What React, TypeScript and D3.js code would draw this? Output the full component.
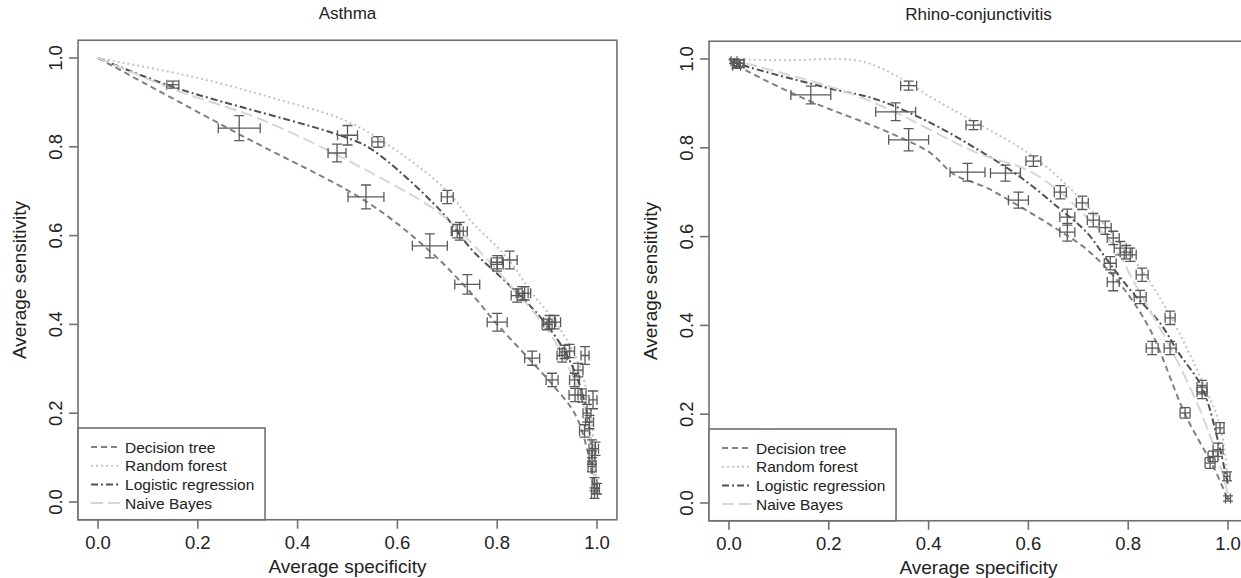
import * as d3 from 'd3';
import { useEffect, useRef } from 'react';

// model names, same order as the line styles
const models = ['Decision tree', 'Random forest', 'Logistic regression', 'Naive Bayes'];
const tickVals = [0, 0.2, 0.4, 0.6, 0.8, 1.0];

// --- Asthma ---
// mean curves: [specificity, sensitivity]
const asthmaTreeCurve = [[0, 1], [0.28, 0.83], [0.54, 0.675], [0.665, 0.565], [0.74, 0.48], [0.80, 0.40], [0.87, 0.315], [0.91, 0.265], [0.955, 0.2], [0.98, 0.12], [0.995, 0.02]];
const asthmaForestCurve = [[0, 1], [0.2, 0.955], [0.35, 0.91], [0.5, 0.857], [0.6, 0.79], [0.7, 0.70], [0.75, 0.63], [0.82, 0.55], [0.87, 0.47], [0.92, 0.40], [0.96, 0.32], [0.985, 0.22], [0.995, 0.1], [1.0, 0.02]];
const asthmaLogitCurve = [[0, 1], [0.15, 0.935], [0.5, 0.82], [0.55, 0.793], [0.685, 0.658], [0.75, 0.567], [0.82, 0.493], [0.886, 0.417], [0.93, 0.35], [0.96, 0.28], [0.98, 0.2], [0.99, 0.1], [0.995, 0.02]];
const asthmaBayesCurve = [[0, 1], [0.15, 0.93], [0.33, 0.86], [0.55, 0.74], [0.685, 0.65], [0.76, 0.57], [0.84, 0.47], [0.90, 0.39], [0.94, 0.31], [0.97, 0.23], [0.99, 0.12], [0.995, 0.02]];
// error bars: [specificity, sensitivity, spec error, sens error]
const asthmaTreeBars = [
  [0.283, 0.842, 0.042, 0.028], [0.537, 0.687, 0.036, 0.027], [0.665, 0.577, 0.035, 0.027], [0.74, 0.49, 0.025, 0.022],
  [0.80, 0.405, 0.02, 0.02], [0.87, 0.324, 0.015, 0.016], [0.91, 0.275, 0.012, 0.015], [0.956, 0.241, 0.012, 0.015],
  [0.975, 0.16, 0.01, 0.014], [0.99, 0.08, 0.008, 0.012], [0.995, 0.02, 0.006, 0.012],
];
const asthmaForestBars = [
  [0.561, 0.811, 0.012, 0.012], [0.70, 0.687, 0.012, 0.015], [0.80, 0.54, 0.012, 0.015], [0.855, 0.47, 0.012, 0.015],
  [0.915, 0.405, 0.012, 0.015], [0.945, 0.34, 0.01, 0.015], [0.976, 0.33, 0.008, 0.02], [0.992, 0.23, 0.008, 0.02],
  [0.997, 0.12, 0.006, 0.015], [1.0, 0.03, 0.005, 0.012],
];
const asthmaLogitBars = [
  [0.15, 0.94, 0.012, 0.008], [0.50, 0.826, 0.02, 0.022], [0.725, 0.61, 0.015, 0.02], [0.825, 0.545, 0.015, 0.02],
  [0.85, 0.47, 0.012, 0.015], [0.905, 0.405, 0.012, 0.015], [0.935, 0.338, 0.01, 0.015], [0.962, 0.297, 0.01, 0.015],
  [0.98, 0.2, 0.008, 0.02], [0.99, 0.12, 0.006, 0.02], [0.995, 0.04, 0.005, 0.015],
];
const asthmaBayesBars = [
  [0.479, 0.786, 0.018, 0.02], [0.72, 0.61, 0.012, 0.015], [0.80, 0.535, 0.012, 0.015], [0.84, 0.465, 0.012, 0.015],
  [0.90, 0.40, 0.01, 0.012], [0.93, 0.33, 0.01, 0.015], [0.955, 0.275, 0.01, 0.015], [0.97, 0.24, 0.008, 0.015],
  [0.985, 0.18, 0.008, 0.015], [0.99, 0.10, 0.006, 0.015],
];

// --- Rhino-conjunctivitis ---
const rhinoTreeCurve = [[0, 1], [0.01, 0.99], [0.144, 0.914], [0.324, 0.833], [0.404, 0.788], [0.45, 0.741], [0.518, 0.709], [0.584, 0.667], [0.65, 0.622], [0.718, 0.57], [0.784, 0.493], [0.844, 0.39], [0.914, 0.2], [0.974, 0.074], [1.0, 0.007]];
const rhinoForestCurve = [[0, 1], [0.1, 0.997], [0.264, 0.995], [0.35, 0.953], [0.404, 0.914], [0.49, 0.86], [0.61, 0.78], [0.70, 0.69], [0.78, 0.59], [0.83, 0.52], [0.885, 0.42], [0.95, 0.27], [0.985, 0.17], [1.0, 0.05]];
const rhinoLogitCurve = [[0, 1], [0.01, 0.993], [0.19, 0.937], [0.298, 0.908], [0.404, 0.856], [0.5, 0.795], [0.584, 0.734], [0.658, 0.667], [0.718, 0.608], [0.758, 0.547], [0.804, 0.48], [0.864, 0.405], [0.9, 0.34], [0.948, 0.26], [0.98, 0.14], [1.0, 0.04]];
const rhinoBayesCurve = [[0, 1], [0.224, 0.93], [0.324, 0.885], [0.498, 0.788], [0.598, 0.75], [0.664, 0.70], [0.72, 0.64], [0.77, 0.58], [0.82, 0.48], [0.88, 0.36], [0.94, 0.22], [0.98, 0.1], [1.0, 0.02]];
const rhinoTreeBars = [
  [0.02, 0.99, 0.01, 0.008], [0.164, 0.919, 0.04, 0.02], [0.36, 0.818, 0.04, 0.025], [0.478, 0.745, 0.035, 0.02],
  [0.58, 0.682, 0.02, 0.018], [0.678, 0.61, 0.015, 0.02], [0.77, 0.498, 0.012, 0.02], [0.848, 0.349, 0.012, 0.015],
  [0.914, 0.203, 0.01, 0.012], [0.964, 0.09, 0.01, 0.012], [1.0, 0.01, 0.005, 0.006],
];
const rhinoForestBars = [
  [0.01, 0.995, 0.006, 0.005], [0.36, 0.94, 0.016, 0.01], [0.49, 0.851, 0.015, 0.01], [0.61, 0.77, 0.015, 0.012],
  [0.708, 0.676, 0.012, 0.015], [0.784, 0.574, 0.012, 0.015], [0.828, 0.514, 0.012, 0.015], [0.884, 0.417, 0.01, 0.015],
  [0.984, 0.169, 0.008, 0.012],
];
const rhinoLogitBars = [
  [0.02, 0.99, 0.01, 0.008], [0.334, 0.881, 0.04, 0.02], [0.554, 0.743, 0.03, 0.018], [0.678, 0.644, 0.015, 0.018],
  [0.73, 0.637, 0.012, 0.015], [0.804, 0.559, 0.012, 0.015], [0.824, 0.464, 0.012, 0.015], [0.884, 0.349, 0.012, 0.015],
  [0.948, 0.261, 0.01, 0.015], [0.98, 0.12, 0.01, 0.015], [0.998, 0.06, 0.006, 0.01],
];
const rhinoBayesBars = [
  [0.015, 0.985, 0.008, 0.006], [0.664, 0.70, 0.012, 0.015], [0.754, 0.62, 0.012, 0.015], [0.77, 0.597, 0.012, 0.015],
  [0.764, 0.54, 0.012, 0.015], [0.796, 0.565, 0.012, 0.015], [0.948, 0.25, 0.01, 0.015], [0.97, 0.105, 0.01, 0.012],
];

// grey line styles as in the R plot
const lineStyles = [
  { stroke: '#808080', dash: '6 4', width: 2 },
  { stroke: '#c4c4c4', dash: '2 3', width: 2 },
  { stroke: '#505050', dash: '7 3 2 3', width: 2 },
  { stroke: '#d6d6d6', dash: '12 5', width: 2 },
];

const font = '"Liberation Sans", Arial, sans-serif';

function Panel({ title, curves, bars, dx, dy }) {
  const gRef = useRef(null);
  const x = d3.scaleLinear().domain([0, 1]).range([98, 597]);
  const y = d3.scaleLinear().domain([0, 1]).range([502, 58]);
  const bx0 = x(-0.04), bx1 = x(1.04), by0 = y(1.04), by1 = y(-0.04);

  useEffect(() => {
    const g = d3.select(gRef.current);
    g.selectAll('*').remove();

    const line = d3.line().x(d => x(d[0])).y(d => y(d[1])).curve(d3.curveCatmullRom.alpha(0.5));
    curves.forEach((c, i) => {
      const st = lineStyles[i];
      g.append('path').attr('d', line(c)).attr('fill', 'none')
        .attr('stroke', st.stroke).attr('stroke-width', st.width).attr('stroke-dasharray', st.dash);
    });

    // error crosses
    const cap = 5;
    bars.forEach(s => {
      s.forEach(d => {
        const cx = x(d[0]), cy = y(d[1]);
        const xl = x(d[0] - d[2]), xr = x(d[0] + d[2]);
        const yt = y(d[1] + d[3]), yb = y(d[1] - d[3]);
        const p = d3.path();
        p.moveTo(xl, cy); p.lineTo(xr, cy);
        p.moveTo(xl, cy - cap); p.lineTo(xl, cy + cap);
        p.moveTo(xr, cy - cap); p.lineTo(xr, cy + cap);
        p.moveTo(cx, yt); p.lineTo(cx, yb);
        p.moveTo(cx - cap, yt); p.lineTo(cx + cap, yt);
        p.moveTo(cx - cap, yb); p.lineTo(cx + cap, yb);
        g.append('path').attr('d', p.toString()).attr('fill', 'none')
          .attr('stroke', '#5a5a5a').attr('stroke-width', 1.3);
      });
    });
  }, [curves, bars]);

  return (
    <g transform={`translate(${dx},${dy})`} fontFamily={font} fill="#222">
      <text x={(bx0 + bx1) / 2} y={19} textAnchor="middle" fontSize={17}>{title}</text>
      <g ref={gRef} />
      <rect x={bx0} y={by0} width={bx1 - bx0} height={by1 - by0} fill="none" stroke="#707070" strokeWidth={1.6} />

      {/* x ticks */}
      {tickVals.map(t => (
        <g key={'x' + t}>
          <line x1={x(t)} x2={x(t)} y1={by1} y2={by1 + 9} stroke="#707070" strokeWidth={1.6} />
          <text x={x(t)} y={by1 + 29} textAnchor="middle" fontSize={18.5}>{t.toFixed(1)}</text>
        </g>
      ))}
      <text x={(bx0 + bx1) / 2} y={by1 + 53} textAnchor="middle" fontSize={19}>Average specificity</text>

      {/* y ticks */}
      {tickVals.map(t => (
        <g key={'y' + t}>
          <line x1={bx0 - 9} x2={bx0} y1={y(t)} y2={y(t)} stroke="#707070" strokeWidth={1.6} />
          <text transform={`translate(${bx0 - 16},${y(t)}) rotate(-90)`} textAnchor="middle" fontSize={18.5}>{t.toFixed(1)}</text>
        </g>
      ))}
      <text transform={`translate(${bx0 - 52},${(by0 + by1) / 2}) rotate(-90)`} textAnchor="middle" fontSize={19}>Average sensitivity</text>

      {/* legend */}
      <rect x={bx0} y={428} width={187} height={by1 - 428} fill="#fff" stroke="#707070" strokeWidth={1.6} />
      {models.map((m, i) => (
        <g key={m}>
          <line x1={bx0 + 13} x2={bx0 + 42} y1={447 + i * 18.7} y2={447 + i * 18.7}
            stroke={lineStyles[i].stroke} strokeWidth={2} strokeDasharray={lineStyles[i].dash} />
          <text x={bx0 + 47} y={447 + i * 18.7 + 5.5} fontSize={15.5}>{m}</text>
        </g>
      ))}
    </g>
  );
}

export default function App() {
  return (
    <div style={{ position: 'fixed', left: 0, top: 0, background: '#fff' }}>
      <svg width={1241} height={578} style={{ display: 'block' }}>
        <rect width={1241} height={578} fill="#fff" />
        <Panel title="Asthma"
          curves={[asthmaTreeCurve, asthmaForestCurve, asthmaLogitCurve, asthmaBayesCurve]}
          bars={[asthmaTreeBars, asthmaForestBars, asthmaLogitBars, asthmaBayesBars]} dx={0} dy={0} />
        <Panel title="Rhino-conjunctivitis"
          curves={[rhinoTreeCurve, rhinoForestCurve, rhinoLogitCurve, rhinoBayesCurve]}
          bars={[rhinoTreeBars, rhinoForestBars, rhinoLogitBars, rhinoBayesBars]} dx={631} dy={1} />
      </svg>
    </div>
  );
}
